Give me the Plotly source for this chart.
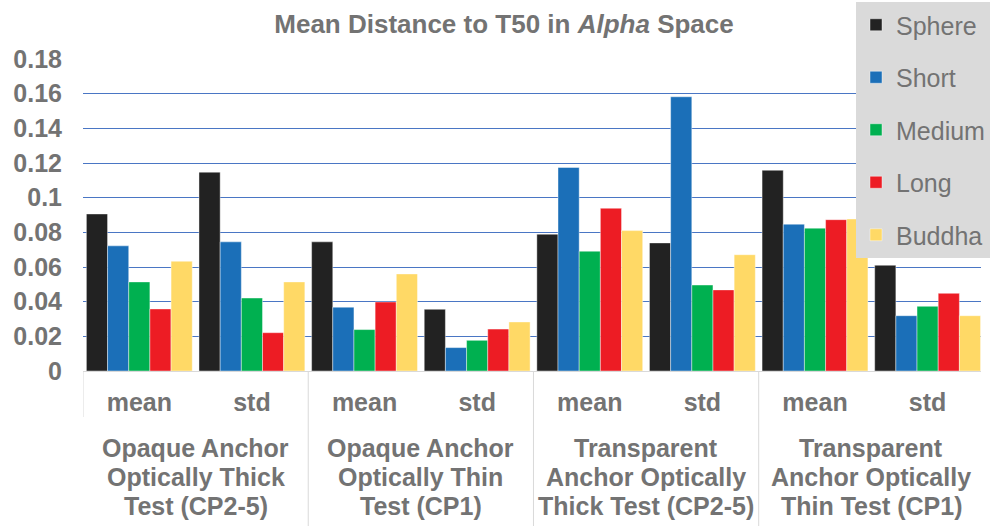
import plotly.graph_objects as go

# Bar series: one value per (test, statistic) column
series_names = ["Sphere", "Short", "Medium", "Long", "Buddha"]
series_colors = ["#222222", "#1b6fb8", "#00b050", "#ed1c24", "#ffd966"]

sphere = [0.0906, 0.1147, 0.0745, 0.0356, 0.0789, 0.0739, 0.1158, 0.0610]
short = [0.0722, 0.0745, 0.0368, 0.0135, 0.1174, 0.1582, 0.0847, 0.0319]
medium = [0.0514, 0.0421, 0.0239, 0.0177, 0.0691, 0.0496, 0.0824, 0.0373]
long_ = [0.0358, 0.0221, 0.0398, 0.0242, 0.0939, 0.0468, 0.0873, 0.0448]
buddha = [0.0633, 0.0514, 0.0560, 0.0283, 0.0810, 0.0671, 0.0877, 0.0319]
series_values = [sphere, short, medium, long_, buddha]

# Inner category labels and outer group labels (three lines each)
stat_labels = ["mean", "std", "mean", "std", "mean", "std", "mean", "std"]
group_labels = [
    ["Opaque Anchor", "Optically Thick", "Test (CP2-5)"],
    ["Opaque Anchor", "Optically Thin", "Test (CP1)"],
    ["Transparent", "Anchor Optically", "Thick Test (CP2-5)"],
    ["Transparent", "Anchor Optically", "Thin Test (CP1)"],
]

y_tickvals = [0, 0.02, 0.04, 0.06, 0.08, 0.1, 0.12, 0.14, 0.16, 0.18]
y_ticktext = ["0", "0.02", "0.04", "0.06", "0.08", "0.1", "0.12", "0.14", "0.16", "0.18"]

FONT = "Liberation Sans, Arial, sans-serif"
GREY = "#737373"
x_pos = list(range(len(stat_labels)))

fig = go.Figure()
for name, color, vals in zip(series_names, series_colors, series_values):
    fig.add_trace(go.Bar(
        x=x_pos, y=vals, name=name, legendgroup=name,
        marker=dict(color=color, line=dict(color="rgba(255,255,255,0.7)", width=0.6)),
    ))

# Plot-area geometry (pixels) used to place the outer labels and dividers
plot_top, plot_bottom = 59, 371
plot_h = plot_bottom - plot_top


def paper_y(px):
    return (plot_bottom - px) / plot_h


annotations = []
line_rows = [448, 477, 506]
for g, lines in enumerate(group_labels):
    for row, text in zip(line_rows, lines):
        annotations.append(dict(
            x=2 * g + 0.5, xref="x", y=paper_y(row), yref="paper",
            text=text, showarrow=False, xanchor="center", yanchor="middle",
            font=dict(family=FONT, size=25, color=GREY, weight="bold"),
        ))

shapes = [dict(type="line", xref="x", yref="paper", x0=-0.5, x1=-0.5,
               y0=0, y1=paper_y(417), line=dict(color="#d9d9d9", width=1))]
for b in [1.5, 3.5, 5.5]:
    shapes.append(dict(type="line", xref="x", yref="paper", x0=b, x1=b,
                       y0=0, y1=paper_y(530), line=dict(color="#d9d9d9", width=1)))

fig.update_layout(
    width=990, height=526,
    margin=dict(l=83, r=0, t=plot_top, b=526 - plot_bottom),
    paper_bgcolor="white", plot_bgcolor="white",
    barmode="group", bargap=0.06, bargroupgap=0,
    title=dict(
        text="Mean Distance to T50 in <i>Alpha</i> Space",
        x=504 / 990, xanchor="center", y=(526 - 24) / 526, yanchor="middle",
        font=dict(family=FONT, size=26, color=GREY, weight="bold"),
    ),
    xaxis=dict(
        range=[-0.5, 7.474], tickvals=x_pos, ticktext=stat_labels,
        showgrid=False, zeroline=False, showline=True, linecolor="#d9d9d9", linewidth=1,
        ticks="", ticklabelstandoff=9,
        tickfont=dict(family=FONT, size=25, color=GREY, weight="bold"),
    ),
    yaxis=dict(
        range=[0, 0.18], tickvals=y_tickvals, ticktext=y_ticktext,
        showgrid=True, gridcolor="#4a76c4", gridwidth=1.3,
        zeroline=False, showline=False, ticks="", ticklabelstandoff=20,
        tickfont=dict(family=FONT, size=25, color=GREY, weight="bold"),
    ),
    legend=dict(
        x=(864 - 83) / 907, xanchor="left", y=1 + 57 / plot_h, yanchor="top",
        bgcolor="#dadada", borderwidth=0, tracegroupgap=17,
        font=dict(family=FONT, size=25, color=GREY),
    ),
    annotations=annotations,
    shapes=shapes,
)

fig.write_html("out.html")
